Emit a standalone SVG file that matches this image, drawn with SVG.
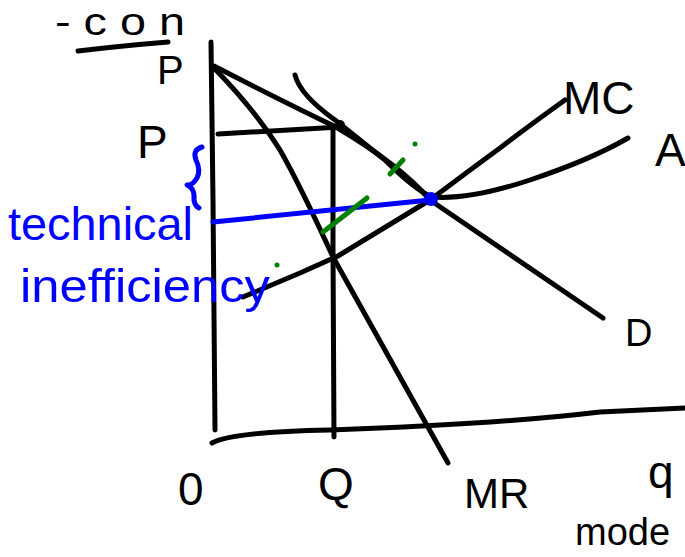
<svg xmlns="http://www.w3.org/2000/svg" width="685" height="557" viewBox="0 0 685 557">
<style>
.k{fill:none;stroke:#000;stroke-width:5;stroke-linecap:round;stroke-linejoin:round}
.b{fill:none;stroke:#0000ff;stroke-width:5;stroke-linecap:round;stroke-linejoin:round}
.g{fill:none;stroke:#008000;stroke-width:5;stroke-linecap:round}
.t{font-family:"Liberation Sans",Arial,sans-serif;fill:#000}
.bt{font-family:"Liberation Sans",Arial,sans-serif;fill:#0000ff}
</style>
<rect width="685" height="557" fill="#fff"/>
<g id="connectors">
<path id="y-axis" class="k" d="M211,42 L213,200 L215,430"/>
<path id="x-axis" class="k" d="M212,443 Q230,432 330,430 Q500,424 600,412 L685,408"/>
<path id="demand" class="k" d="M214,66 Q280,100 336,127 Q400,165 430,200 L603,318"/>
<path id="mr" class="k" d="M214,68 Q255,110 280,150 Q300,185 333,257 L448,463"/>
<path id="ac" class="k" d="M295,75 Q300,95 335,120 L385,160 Q415,190 432,197 Q470,200 530,180 Q590,160 628,138"/>
<path id="mc" class="k" d="M243,297 L300,273 L338,256 L430,200 Q470,170 500,148 Q530,125 565,100"/>
<path id="q-line" class="k" d="M333,127 L333,250 L334,437"/>
<path id="p-line" class="k" d="M218,134 L340,127"/>
<path id="underline" class="k" d="M78,51 Q120,46 168,42"/>
<path id="blue-line" class="b" d="M213,222 L430,200"/>
<path id="brace" class="b" d="M202,147 Q192,150 196,160 Q201,170 197,178 Q192,186 187,185 Q195,188 194,200 Q195,206 199,208"/>
<path class="g" d="M323,232 L367,198"/>
<path class="g" d="M390,174 L403,160"/>
</g>
<g id="points">
<circle cx="340" cy="125" r="5" fill="#000"/>
<circle cx="431" cy="199" r="7" fill="#0000ff"/>
<circle cx="415" cy="144" r="2.5" fill="#008000"/>
<circle cx="277" cy="265" r="2.5" fill="#008000"/>
</g>
<g id="labels">
<text class="t" x="55" y="35" font-size="38" textLength="130" lengthAdjust="spacingAndGlyphs">- c o n</text>
<text class="t" x="157" y="84" font-size="40">P</text>
<text class="t" x="137" y="158" font-size="46">P</text>
<text class="t" x="563" y="114" font-size="46">MC</text>
<text class="t" x="655" y="166" font-size="46">A</text>
<text class="t" x="625" y="346" font-size="38">D</text>
<text class="t" x="464" y="508" font-size="42">MR</text>
<text class="t" x="178" y="505" font-size="46">0</text>
<text class="t" x="318" y="500" font-size="46">Q</text>
<text class="t" x="648" y="488" font-size="46">q</text>
<text class="t" x="575" y="545" font-size="38">mode</text>
<text class="bt" x="8" y="240" font-size="46" textLength="185" lengthAdjust="spacingAndGlyphs">technical</text>
<text class="bt" x="20" y="302" font-size="46" textLength="250" lengthAdjust="spacingAndGlyphs">inefficiency</text>
</g>
</svg>
